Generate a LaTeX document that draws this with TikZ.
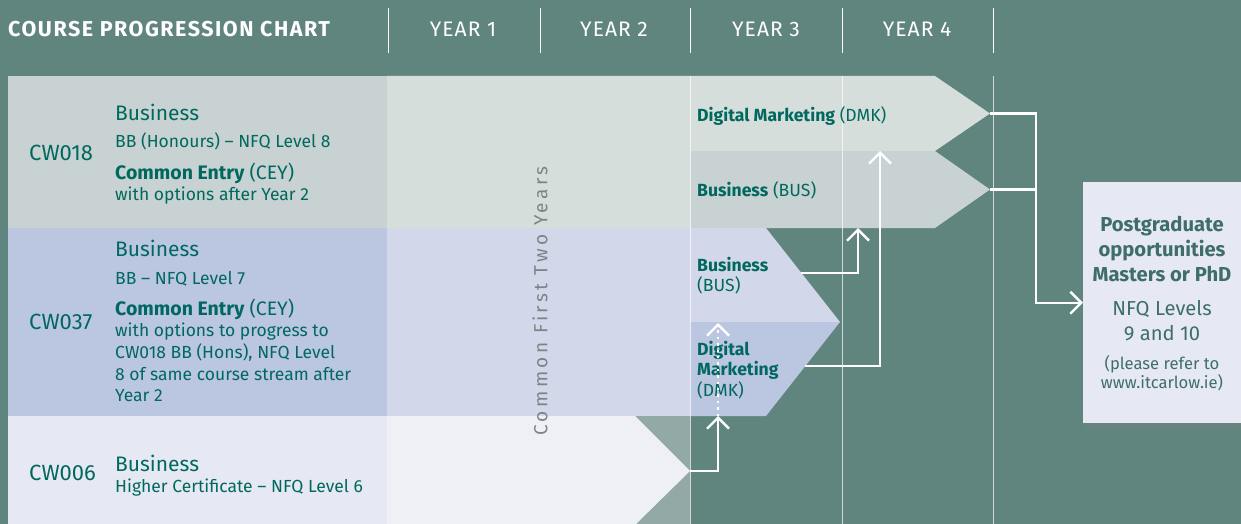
\documentclass[tikz,border=0pt]{standalone}
\usepackage{fontspec}
\setmainfont{Fira Sans}
\usetikzlibrary{positioning,arrows.meta,shadows}

\definecolor{bgteal}{RGB}{96,133,127}
\definecolor{ink}{RGB}{0,104,94}
\definecolor{boxink}{RGB}{62,110,103}
\definecolor{spine}{RGB}{122,134,134}
\definecolor{hons}{RGB}{200,210,210}
\definecolor{honslt}{RGB}{214,222,220}
\definecolor{ord}{RGB}{187,198,224}
\definecolor{ordlt}{RGB}{210,215,234}
\definecolor{cert}{RGB}{230,233,243}
\definecolor{certlt}{RGB}{239,240,245}
\definecolor{wedge}{RGB}{146,169,165}

\newcommand{\fsz}[2]{\fontsize{#1}{#2}\selectfont}

\begin{document}
\begin{tikzpicture}[x=1pt, y=-1pt,
    every node/.style={inner sep=0pt, text=ink},
    yearhead/.style={anchor=base, text=white, font=\fsz{21}{26}\addfontfeature{LetterSpace=5}},
    cwcode/.style={anchor=base west, font=\fsz{22}{26}},
    cwtitle/.style={anchor=base west, font=\fsz{21}{24}},
    cwline/.style={anchor=base west, align=left, font=\fsz{17.5}{21.7}},
    cwentry/.style={anchor=base west, font=\fsz{19.5}{22}},
    optlabel/.style={anchor=base west, align=left, font=\fsz{17.6}{20.3}},
    pgtext/.style={anchor=base, text=boxink, align=center},
    yearline/.style={draw=white, line width=1pt},
    flow/.style={draw=white, line width=2.4pt,
      -{Straight Barb[length=11pt, width=22pt]}},
    postbox/.style={fill=cert, anchor=north west, minimum width=175pt, minimum height=241pt,
      drop shadow={shadow xshift=2pt, shadow yshift=-6pt, opacity=0.3}}]

  \fill[bgteal] (0,0) rectangle (1241,524);
  \useasboundingbox (0,0) rectangle (1241,524);

  % header
  \node[anchor=base west, text=white, font=\bfseries\fsz{21.5}{26}\addfontfeature{LetterSpace=7}] (chart) at (8,36.7) {COURSE PROGRESSION CHART};
  \foreach \x/\n in {463/1, 614/2, 766/3, 917/4}
    \node[yearhead] (year\n) at (\x,36.7) {YEAR \n};
  \foreach \x in {388,540,690,842,993}
    \draw[yearline] (\x,8) -- (\x,53);

  % bands
  \fill[hons] (8,76) rectangle (387,228);
  \fill[honslt] (387,76) -- (935,76) -- (990,113.5) -- (935,151) -- (690,151) -- (690,228) -- (387,228) -- cycle;
  \fill[hons] (690,151) -- (935,151) -- (990,189.5) -- (935,228) -- (690,228) -- cycle;
  \fill[ord] (8,228) rectangle (387,416);
  \fill[ordlt] (387,228) -- (766,228) -- (840,322) -- (690,322) -- (690,416) -- (387,416) -- cycle;
  \fill[ord] (690,322) -- (840,322) -- (766,416) -- (690,416) -- cycle;
  \fill[cert] (8,416) rectangle (387,524);
  \fill[wedge] (635,416) rectangle (690,524);
  \fill[certlt] (387,416) -- (635,416) -- (690,471) -- (636,524) -- (387,524) -- cycle;
  \foreach \x in {690,842,993}
    \draw[yearline, opacity=0.7] (\x,76) -- (\x,524);

  \node[rotate=90, text=spine, font=\fsz{19}{19}\addfontfeature{LetterSpace=18}] (common) at (540,301) {Common First Two Years};

  % CW018
  \node[cwcode] (cw018) at (29,160.7) {CW018};
  \node[cwtitle] (t018) at (115,120.7) {Business};
  \node[cwline] (l018) at (115,147.7) {BB (Honours) – NFQ Level 8};
  \node[cwentry] (e018) at (115,179) {\textbf{Common Entry} (CEY)};
  \node[cwline] (o018) at (115,200) {with options after Year 2};
  % CW037
  \node[cwcode] (cw037) at (29,329) {CW037};
  \node[cwtitle] (t037) at (115,256.7) {Business};
  \node[cwline] (l037) at (115,284.3) {BB – NFQ Level 7};
  \node[cwentry] (e037) at (115,315.7) {\textbf{Common Entry} (CEY)};
  \node[cwline] (o037) at (115,401.7) {with options to progress to\\CW018 BB (Hons), NFQ Level\\8 of same course stream after\\Year 2};
  % CW006
  \node[cwcode] (cw006) at (29,480.7) {CW006};
  \node[cwtitle] (t006) at (115,471.7) {Business};
  \node[cwline] (l006) at (115,492.7) {Higher Certificate – NFQ Level 6};

  % year 3 and 4 streams
  \node[optlabel] (dmk4) at (697,121.7) {\textbf{Digital Marketing} (DMK)};
  \node[optlabel] (bus4) at (697,196.7) {\textbf{Business} (BUS)};
  \node[optlabel] (bus3) at (697,291.7) {\textbf{Business}\\(BUS)};
  \node[optlabel] (dmk3) at (697,396) {\textbf{Digital}\\\textbf{Marketing}\\(DMK)};

  % postgraduate box
  \node[postbox] (pgbox) at (1083,182) {};
  \node[pgtext, font=\bfseries\fsz{20.2}{25}] (pg1) at (1162,281.7) {Postgraduate\\opportunities\\Masters or PhD};
  \node[pgtext, font=\fsz{20.2}{25.7}] (pg2) at (1162,340.7) {NFQ Levels\\9 and 10};
  \node[pgtext, font=\fsz{16.6}{19}] (pg3) at (1162,388.3) {(please refer to\\www.itcarlow.ie)};

  % connectors
  \coordinate (certtip) at (690,471);
  \coordinate (dmk3in) at (718,416);
  \coordinate (bus3in) at (718,323);
  \coordinate (bus3out) at (801,273);
  \coordinate (bus4in) at (858,228);
  \coordinate (dmk3out) at (805,366);
  \coordinate (dmk4in) at (880,151);
  \coordinate (dmk4tip) at (990,113.5);
  \coordinate (bus4tip) at (990,189.5);
  \coordinate (bend) at (1036,113.5);

  \draw[flow] (certtip) -| (dmk3in);
  \draw[flow, dash pattern=on 2.4pt off 4pt] (dmk3in) -- (bus3in);
  \draw[flow] (bus3out) -| (bus4in);
  \draw[flow] (dmk3out) -| (dmk4in);
  \draw[flow] (dmk4tip) -- (bend) |- (pgbox.west);
  \draw[flow, -] (bus4tip) -- (bus4tip -| bend);
\end{tikzpicture}
\end{document}
